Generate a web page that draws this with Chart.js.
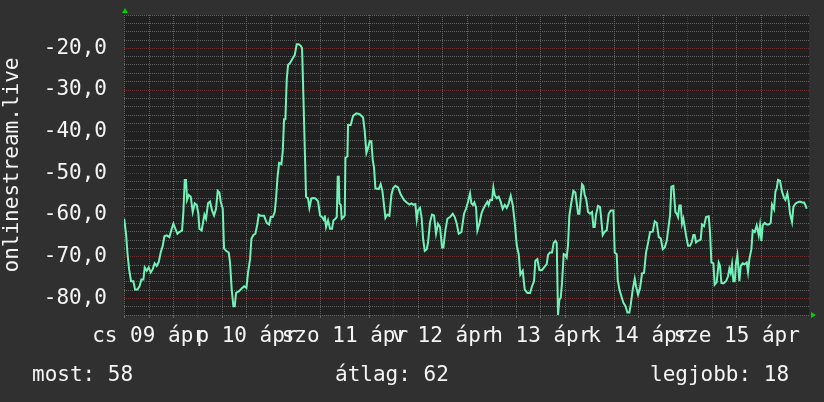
<!DOCTYPE html>
<html>
<head>
<meta charset="utf-8">
<title>onlinestream.live</title>
<script src="https://cdn.jsdelivr.net/npm/chart.js@4/dist/chart.umd.min.js"></script>
<style>
  html, body { margin: 0; padding: 0; background: #303030; }
  #wrap { width: 824px; height: 402px; }
</style>
</head>
<body>
<div id="wrap"><canvas id="signal-chart" width="824" height="402"></canvas></div>
<script>
// hours since 2020-04-09 00:00 and the signal reading at that time
var hours = [
  5.9, 6.37, 6.7, 7.11, 7.6, 8.17, 8.58, 9.15, 9.64, 10.13, 10.62, 10.94, 11.43, 11.92, 12.41, 12.9,
  13.39, 13.88, 14.37, 14.86, 15.36, 15.76, 16.34, 16.99, 17.56, 17.97, 18.46, 18.95, 19.44, 20.09,
  20.42, 20.75, 21.07, 21.32, 21.73, 22.22, 22.71, 23.2, 23.69, 24.09, 24.34, 24.91, 25.24, 25.57,
  25.97, 26.46, 26.95, 27.44, 27.93, 28.42, 28.83, 29.24, 29.57, 30.06, 30.38, 30.87, 31.53, 31.85,
  32.26, 32.67, 33.0,
  33.33, 34.07, 34.64, 35.29, 35.86, 36.27, 36.76, 37.09, 37.58, 38.07, 38.56, 38.88, 39.37, 40.19,
  40.84, 41.42, 41.82, 42.31, 42.8, 43.13, 43.46, 43.87, 44.44, 44.77, 45.09, 45.42, 45.75, 46.07,
  46.56, 47.05, 47.71, 48.2, 48.69, 49.18, 49.5, 49.83, 50.16, 50.48, 50.97, 51.3, 51.79, 52.28,
  52.77, 53.42, 53.91, 54.4, 54.89, 55.06, 55.38, 55.87, 56.36, 56.85, 57.18, 57.67, 58.0, 58.24,
  58.49, 58.65, 58.98, 59.22, 59.63, 59.96, 60.12, 60.61, 60.77,
  61.42, 62.0, 62.81, 63.63, 64.45, 64.85, 65.26, 65.67, 66.08, 66.49, 66.81, 67.14, 67.47, 68.28,
  68.77, 69.18, 69.59, 69.92, 70.41, 70.9, 71.39, 71.8, 72.37, 73.02, 73.68, 74.49, 75.15, 75.8,
  76.29, 76.78, 77.27, 77.6, 77.92, 78.41, 78.82, 79.15, 79.56, 80.05, 80.37, 80.86, 81.35, 81.84,
  82.33, 82.82, 83.31, 83.8, 84.13, 84.62, 85.11, 85.76, 86.42, 86.91, 87.4, 87.89, 88.54,
  89.19, 89.68, 90.17, 90.66, 90.99, 91.4, 91.72, 92.13, 92.46, 92.95, 93.44, 93.93, 94.42, 94.91,
  95.23, 95.56, 96.05, 96.38, 96.7, 97.19, 97.68, 98.17, 98.66, 99.16, 99.65, 100.14, 100.63,
  101.12, 101.61, 102.1, 102.59, 102.99, 103.57, 104.06, 104.71, 105.36, 105.85, 106.34, 106.67,
  107.16, 107.65, 108.3, 108.96, 109.45, 109.77, 110.26, 110.75, 111.16, 111.57, 111.9, 112.22,
  112.55, 112.88, 113.2, 113.61, 114.02, 114.35, 114.67, 115.0, 115.49, 115.98, 116.47,
  117.13, 117.46, 117.78, 118.11, 118.44, 118.76, 119.09, 119.58, 120.07, 120.56, 120.89, 121.21,
  121.54, 122.03, 122.52, 122.77, 123.17, 123.66, 124.15, 124.64, 125.13, 125.79, 126.11, 126.6,
  126.85, 127.26, 127.75, 128.24, 128.73, 129.22, 129.71, 130.04, 130.53, 131.02, 131.34, 131.83,
  132.32, 132.81, 133.3, 133.79, 134.28, 134.77, 135.43, 135.92, 136.41, 136.9, 137.39, 137.88,
  138.37, 138.86, 139.35, 139.67, 140.0, 140.49, 140.98, 141.31, 141.63, 141.96, 142.29, 142.61,
  142.94, 143.27, 143.59, 144.08, 144.57,
  144.98, 145.39, 145.71, 146.04, 146.53, 147.18, 147.51, 148.0, 148.49, 149.14, 149.47, 149.8,
  150.29, 150.61, 151.1, 151.59, 151.92, 152.25, 152.74, 153.39, 153.88, 154.21, 154.53, 154.86,
  155.19, 155.52, 155.84, 156.17, 156.5, 156.66, 156.99, 157.48, 157.97, 158.46, 158.78, 159.11,
  159.6, 159.93, 160.42, 160.91, 161.4, 161.72, 162.05, 162.38, 162.87, 163.36, 163.85, 164.34,
  164.66, 165.15, 165.48, 165.81, 166.13, 166.62, 167.11, 167.6, 167.93, 168.42, 168.75, 169.07,
  169.56, 169.89, 170.38, 170.87, 171.52, 172.01, 172.5, 172.83, 173.16
];

var signal = [
  -60.9, -64.5, -69.0, -73.0, -75.9, -75.9, -77.9, -77.9, -77.2, -75.5, -75.5, -72.6, -73.4, -72.6, -73.8, -73.0,
  -71.6, -72.2, -71.3, -69.0, -67.4, -65.1, -64.9, -65.3, -63.3, -62.1, -63.3, -64.5, -64.1, -63.7,
  -59.3, -51.6, -51.6, -56.4, -55.2, -55.6, -59.3, -57.2, -57.6, -59.7, -63.3, -63.7, -61.7, -59.9,
  -60.9, -57.2, -56.8, -58.9, -60.1, -58.5, -54.2, -54.6, -56.8, -58.5, -68.0, -68.6, -69.0, -71.4,
  -77.9, -81.9, -81.9,
  -78.7, -78.3, -77.7, -77.1, -77.5, -73.8, -70.6, -65.7, -64.8, -64.5, -62.1, -59.9, -60.2, -60.2,
  -61.9, -62.3, -60.5, -60.5, -59.3, -56.0, -51.2, -47.5, -47.8, -44.7, -37.0, -37.0, -27.3, -24.0,
  -23.5, -22.7, -21.6, -19.0, -19.0, -19.4, -20.0, -31.7, -43.9, -55.6, -56.0, -58.3, -56.0, -55.9,
  -56.0, -56.7, -60.1, -60.5, -61.3, -60.1, -62.9, -61.3, -63.3, -63.3, -61.3, -60.9, -60.5, -50.8,
  -50.8, -57.2, -57.6, -60.9, -60.5, -60.1, -46.3, -45.9, -38.4,
  -38.4, -36.2, -35.6, -35.8, -36.6, -39.8, -45.1, -43.9, -42.3, -42.3, -46.7, -48.7, -53.6, -53.8,
  -52.6, -54.2, -57.7, -60.7, -59.9, -60.2, -55.2, -53.6, -53.0, -53.4, -55.1, -56.4, -57.0, -57.5,
  -57.2, -57.5, -57.4, -61.1, -58.9, -58.3, -60.9, -65.7, -68.6, -68.2, -66.6, -61.7, -59.9, -60.1,
  -64.5, -62.1, -62.9, -67.8, -67.8, -63.7, -60.9, -60.5, -59.7, -60.5, -62.1, -64.5, -64.1,
  -59.7, -58.5, -56.8, -54.8, -57.2, -57.6, -57.0, -58.1, -63.7, -62.1, -59.7, -58.5, -57.6, -56.8,
  -57.6, -56.4, -56.4, -53.4, -55.2, -56.0, -55.6, -56.8, -58.5, -57.6, -58.3, -57.2, -55.4,
  -57.6, -61.7, -67.2, -69.4, -74.3, -73.4, -77.9, -78.7, -78.7, -77.1, -75.9, -71.0,
  -70.6, -73.2, -73.2, -72.4, -71.8, -69.6, -69.0, -69.0, -66.7, -66.2, -66.7, -84.0,
  -80.3, -79.9, -76.3, -69.4, -69.6, -70.2, -67.2, -60.1, -57.0, -54.2, -54.6,
  -59.7, -59.7, -56.0, -52.6, -53.0, -55.2, -56.0, -59.3, -59.7, -59.3, -62.9, -62.9,
  -59.9, -57.8, -58.1, -60.5, -64.8, -64.0, -63.7, -59.7, -58.9, -58.9, -69.0, -69.4,
  -75.5, -77.9, -79.5, -81.1, -81.8, -83.4, -83.4, -81.5, -77.9, -75.3, -77.1, -79.1,
  -77.5, -74.0, -73.9, -69.0, -66.7, -64.1, -64.0, -61.5, -61.9, -65.3, -65.6, -68.2,
  -67.8, -66.2, -62.5, -60.1, -53.2, -53.0, -59.3, -59.7, -60.5, -57.7, -57.7, -62.1,
  -60.9, -62.9, -64.9, -67.4, -67.4,
  -66.6, -64.8, -64.8, -66.6, -66.2, -65.9, -62.3, -62.7, -60.5, -60.3, -64.1, -71.4,
  -71.6, -76.7, -76.1, -71.4, -72.2, -76.3, -76.4, -75.9, -74.7, -72.9, -73.9, -71.8,
  -75.9, -75.9, -71.4, -69.6, -73.9, -75.9, -72.2, -71.6, -71.8, -71.4, -73.7, -70.6,
  -68.2, -63.7, -64.1, -62.5, -64.9, -62.5, -66.2, -62.5, -61.9, -62.3, -62.3, -61.9,
  -57.5, -58.6, -54.4, -53.6, -51.6, -51.8, -54.4, -55.9, -56.4, -54.8, -56.8, -59.7,
  -61.7, -58.1, -57.3, -57.0, -56.8, -57.0, -57.0, -57.6, -58.5
];

// one label per day, centred on noon
var dayLabels = ["cs 09 ápr", "p 10 ápr", "szo 11 ápr", "v 12 ápr", "h 13 ápr", "k 14 ápr", "sze 15 ápr"];
var legendItems = ["most: 58", "átlag: 62", "legjobb: 18"];
var yTitle = "onlinestream.live";

(function () {
  "use strict";

  var FONT = "'DejaVu Sans Mono', monospace";
  var TEXT = "#f4f4f4";
  var GRID_MINOR = "#616161";
  var GRID_MAJOR = "#6a2e2e";

  var points = hours.map(function (h, i) {
    return { x: h, y: signal[i] };
  });

  // keep the plot box fixed: no extra room for half-labels at the ends
  function noEdgePadding(scale) {
    scale.paddingTop = 0;
    scale.paddingBottom = 0;
    scale.paddingLeft = 0;
    scale.paddingRight = 0;
  }

  var frame = {
    id: "frame",
    beforeDraw: function (chart) {
      var ctx = chart.ctx;
      var a = chart.chartArea;
      ctx.save();
      ctx.fillStyle = "#303030";
      ctx.fillRect(0, 0, chart.width, chart.height);
      ctx.fillStyle = "#202020";
      ctx.fillRect(a.left, a.top, a.right - a.left, a.bottom - a.top);
      ctx.restore();
    },
    afterDraw: function (chart) {
      var ctx = chart.ctx;
      var a = chart.chartArea;
      ctx.save();
      // little green axis arrows
      ctx.fillStyle = "#00d000";
      ctx.beginPath();
      ctx.moveTo(a.left + 1, a.top - 7);
      ctx.lineTo(a.left - 2, a.top - 2);
      ctx.lineTo(a.left + 4, a.top - 2);
      ctx.closePath();
      ctx.fill();
      ctx.beginPath();
      ctx.moveTo(a.right + 7, a.bottom);
      ctx.lineTo(a.right + 2, a.bottom - 3);
      ctx.lineTo(a.right + 2, a.bottom + 3);
      ctx.closePath();
      ctx.fill();
      // legend line
      ctx.fillStyle = TEXT;
      ctx.font = "21px " + FONT;
      ctx.textBaseline = "alphabetic";
      ctx.textAlign = "left";
      var xs = [32, 335, 650];
      legendItems.forEach(function (t, i) {
        ctx.fillText(t, xs[i], 381);
      });
      ctx.restore();
    }
  };

  new Chart(document.getElementById("signal-chart"), {
    type: "line",
    data: {
      datasets: [{
        data: points,
        borderColor: "#72f2b8",
        borderWidth: 2,
        pointRadius: 0,
        tension: 0,
        fill: false
      }]
    },
    options: {
      responsive: false,
      animation: false,
      devicePixelRatio: 1,
      layout: { padding: { left: 0, right: 15, top: 15, bottom: 47 } },
      plugins: { legend: { display: false }, tooltip: { enabled: false } },
      scales: {
        x: {
          type: "linear",
          min: 5.867,
          max: 173.72,
          afterBuildTicks: function (scale) {
            var t = [];
            for (var h = 6; h <= 168; h += 6) t.push({ value: h });
            scale.ticks = t;
          },
          afterFit: function (scale) {
            scale.height = 40;
            noEdgePadding(scale);
          },
          ticks: {
            autoSkip: false,
            maxRotation: 0,
            minRotation: 0,
            padding: 6,
            color: TEXT,
            font: { family: FONT, size: 21 },
            callback: function (v) {
              return v % 24 === 12 ? dayLabels[(v - 12) / 24] : "";
            }
          },
          grid: {
            drawTicks: true,
            tickLength: 3,
            color: function (c) {
              return c.tick && c.tick.value % 24 === 0 ? GRID_MAJOR : GRID_MINOR;
            }
          },
          border: { display: false, dash: [1, 1] }
        },
        y: {
          min: -84,
          max: -12,
          afterBuildTicks: function (scale) {
            var t = [];
            for (var v = -84; v <= -12; v += 2) t.push({ value: v });
            scale.ticks = t;
          },
          afterFit: function (scale) {
            scale.width = 124;
            noEdgePadding(scale);
          },
          ticks: {
            autoSkip: false,
            padding: 17,
            color: TEXT,
            font: { family: FONT, size: 21 },
            callback: function (v) {
              return v % 10 === 0 ? v.toFixed(1).replace(".", ",") : "";
            }
          },
          grid: {
            drawTicks: false,
            color: function (c) {
              return c.tick && c.tick.value % 10 === 0 ? GRID_MAJOR : GRID_MINOR;
            }
          },
          border: { display: false, dash: [1, 1] },
          title: {
            display: true,
            text: yTitle,
            color: TEXT,
            padding: 0,
            font: { family: FONT, size: 21 }
          }
        }
      }
    },
    plugins: [frame]
  });
})();
</script>
</body>
</html>
